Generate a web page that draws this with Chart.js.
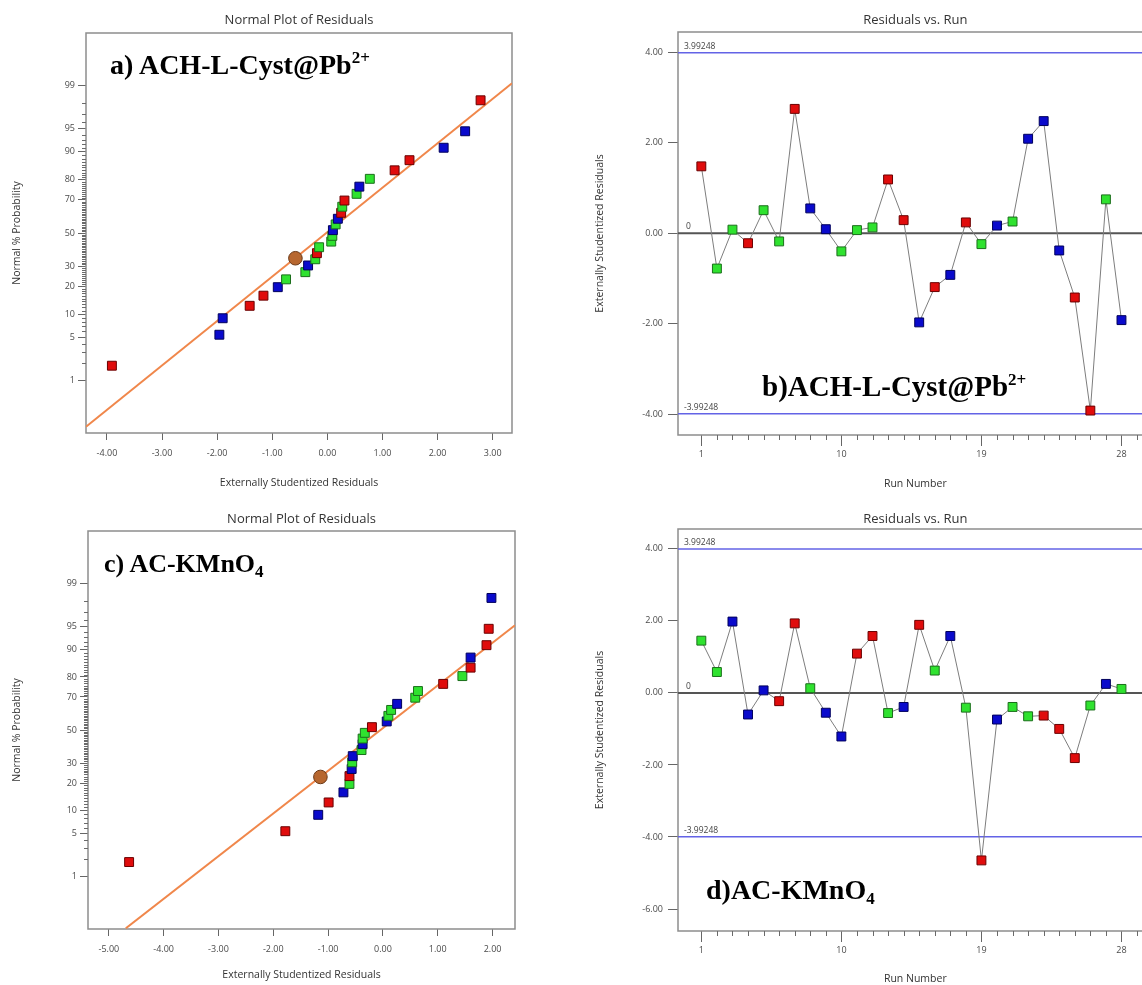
<!DOCTYPE html>
<html>
<head>
<meta charset="utf-8">
<script src="https://cdn.jsdelivr.net/npm/chart.js@4.4.1/dist/chart.umd.min.js"></script>
<style>
  html, body { margin: 0; padding: 0; background: #fff; overflow: hidden; }
  body { position: relative; width: 1142px; height: 985px; }
  .panel { position: absolute; }
  .tag {
    position: absolute; white-space: nowrap; line-height: 1;
    font-family: "Liberation Serif", "Times New Roman", serif;
    font-weight: bold; font-size: 28px; color: #000;
  }
  .tag sup { font-size: 17px; vertical-align: 11px; line-height: 0; }
  .tag sub { font-size: 17px; vertical-align: -5px; line-height: 0; }
</style>
</head>
<body>

<div class="panel" style="left:0;top:0"><canvas id="chartA" width="570" height="495"></canvas></div>
<div class="panel" style="left:570px;top:0"><canvas id="chartB" width="600" height="495"></canvas></div>
<div class="panel" style="left:0;top:498px"><canvas id="chartC" width="570" height="487"></canvas></div>
<div class="panel" style="left:570px;top:498px"><canvas id="chartD" width="600" height="487"></canvas></div>

<div class="tag" style="left:110px;top:51px">a)&#8201;ACH-L-Cyst@Pb<sup>2+</sup></div>
<div class="tag" style="left:762px;top:372px;font-size:29px">b)ACH-L-Cyst@Pb<sup>2+</sup></div>
<div class="tag" style="left:104px;top:551px;font-size:26px">c)&#8201;AC-KMnO<sub>4</sub></div>
<div class="tag" style="left:706px;top:876px">d)AC-KMnO<sub>4</sub></div>

<script>
/***********************
 * DATA
 ***********************/
// run order charts (b, d): run number, residual, design colour (r/g/b)
const runs = [1, 2, 3, 4, 5, 6, 7, 8, 9, 10, 11, 12, 13, 14, 15, 16, 17, 18, 19, 20, 21, 22, 23, 24, 25, 26, 27, 28];

const residB = [1.48, -0.78, 0.08, -0.22, 0.51, -0.18, 2.75, 0.55, 0.09, -0.40, 0.07, 0.13, 1.19, 0.29,
  -1.97, -1.19, -0.92, 0.24, -0.24, 0.17, 0.26, 2.09, 2.48, -0.38, -1.42, -3.92, 0.75, -1.92];
const colorB = ["r", "g", "g", "r", "g", "g", "r", "b", "b", "g", "g", "g", "r", "r",
  "b", "r", "b", "r", "g", "b", "g", "b", "b", "b", "r", "r", "g", "b"];

const residD = [1.45, 0.58, 1.98, -0.60, 0.07, -0.23, 1.93, 0.13, -0.55, -1.21, 1.09, 1.58, -0.56, -0.39,
  1.89, 0.62, 1.58, -0.41, -4.65, -0.74, -0.39, -0.65, -0.63, -1.00, -1.81, -0.35, 0.25, 0.11];
const colorD = ["g", "g", "b", "b", "b", "r", "r", "g", "b", "b", "r", "r", "g", "b",
  "r", "g", "b", "g", "r", "b", "g", "g", "r", "r", "r", "g", "b", "g"];

// normal probability plots (a, c): residual, normal % probability, colour
const residA = [-3.91, -1.96, -1.90, -1.41, -1.16, -0.90, -0.75, -0.40, -0.35, -0.22, -0.19, -0.15, 0.07, 0.09,
  0.10, 0.15, 0.19, 0.25, 0.27, 0.31, 0.53, 0.58, 0.77, 1.22, 1.49, 2.11, 2.50, 2.78];
const colorA = ["r", "b", "b", "r", "r", "b", "g", "g", "b", "g", "r", "g", "g", "g",
  "b", "g", "b", "r", "g", "r", "g", "b", "g", "r", "r", "b", "b", "r"];
const probA = [1.8, 5.4, 8.9, 12.5, 16.1, 19.6, 23.2, 26.8, 30.4, 33.9, 37.5, 41.1, 44.6, 48.2,
  51.8, 55.4, 58.9, 62.5, 66.1, 69.6, 73.2, 76.8, 80.4, 83.9, 87.5, 91.1, 94.6, 98.2];

const residC = [-4.63, -1.78, -1.18, -0.99, -0.72, -0.61, -0.61, -0.57, -0.56, -0.55, -0.39, -0.37, -0.37, -0.33,
  -0.20, 0.07, 0.10, 0.15, 0.26, 0.59, 0.64, 1.10, 1.45, 1.60, 1.60, 1.89, 1.93, 1.98];
const colorC = ["r", "r", "b", "r", "b", "g", "r", "b", "g", "b", "g", "b", "g", "g",
  "r", "b", "g", "g", "b", "g", "g", "r", "g", "r", "b", "r", "r", "b"];
const probC = [1.8, 5.4, 8.9, 12.5, 16.1, 19.6, 23.2, 26.8, 30.4, 33.9, 37.5, 41.1, 44.6, 48.2,
  51.8, 55.4, 58.9, 62.5, 66.1, 69.6, 73.2, 76.8, 80.4, 83.9, 87.5, 91.1, 94.6, 98.2];

// fitted normal line (two end points: residual, %) and the highlighted point
const fitA = { x: [-4.38, 3.35], p: [0.11, 99.1] };
const fitC = { x: [-4.69, 2.41], p: [0.082, 95.2] };
const markA = { x: -0.58, p: 34.5 };
const markC = { x: -1.14, p: 22.8 };

// limits in the run charts
const LIMIT = 3.99248;

// tick labels
const probTicks = [1, 5, 10, 20, 30, 50, 70, 80, 90, 95, 99];
const ticksXA = [-4, -3, -2, -1, 0, 1, 2, 3];
const ticksXC = [-5, -4, -3, -2, -1, 0, 1, 2];
const ticksYB = [-4, -2, 0, 2, 4];
const ticksYD = [-6, -4, -2, 0, 2, 4];
const runTicks = [1, 10, 19, 28];

/***********************
 * STYLE
 ***********************/
const FILL = { r: "#e00c0c", g: "#2fe22f", b: "#0a0acc" };
const EDGE = { r: "#6a0000", g: "#1b6e1b", b: "#00005c" };
const ORANGE = "#f0874b";
const BROWN = "#b7672f";
const LIMIT_BLUE = "#6363e6";
const TICK_C = "#4a4a4a";
const TEXT_C = "#333";

Chart.defaults.font.family = '"Open Sans", "Noto Sans", sans-serif';

/***********************
 * Helpers
 ***********************/
// inverse normal CDF, used as the transform of the probability axis
function probit(p) {
  const a = [-39.69683028665376, 220.9460984245205, -275.9285104469687, 138.3577518672690, -30.66479806614716, 2.506628277459239];
  const b = [-54.47609879822406, 161.5858368580409, -155.6989798598866, 66.80131188771972, -13.28068155288572];
  const c = [-0.007784894002430293, -0.3223964580411365, -2.400758277161838, -2.549732539343734, 4.374664141464968, 2.938163982698783];
  const d = [0.007784695709041462, 0.3224671290700398, 2.445134137142996, 3.754408661907416];
  const lo = 0.02425;
  let q, r;
  if (p < lo) {
    q = Math.sqrt(-2 * Math.log(p));
    return (((((c[0] * q + c[1]) * q + c[2]) * q + c[3]) * q + c[4]) * q + c[5]) / ((((d[0] * q + d[1]) * q + d[2]) * q + d[3]) * q + 1);
  }
  if (p <= 1 - lo) {
    q = p - 0.5;
    r = q * q;
    return (((((a[0] * r + a[1]) * r + a[2]) * r + a[3]) * r + a[4]) * r + a[5]) * q / (((((b[0] * r + b[1]) * r + b[2]) * r + b[3]) * r + b[4]) * r + 1);
  }
  q = Math.sqrt(-2 * Math.log(1 - p));
  return -(((((c[0] * q + c[1]) * q + c[2]) * q + c[3]) * q + c[4]) * q + c[5]) / ((((d[0] * q + d[1]) * q + d[2]) * q + d[3]) * q + 1);
}
const z = (pct) => probit(pct / 100);

function tickList(values) {
  return (scale) => { scale.ticks = values.map((v) => ({ value: v })); };
}

// every whole percent that is not a labelled tick gets a short tick
const minorPct = [];
for (let p = 2; p <= 98; p++) if (!probTicks.includes(p)) minorPct.push(p);
const minorRuns = runs.filter((r) => !runTicks.includes(r)).concat([29]);

/***********************
 * Plugins
 ***********************/
const frame = {
  id: "frame",
  beforeDatasetsDraw(chart) {
    const { ctx, chartArea: a } = chart;
    ctx.save();
    ctx.strokeStyle = "#8d8d8d";
    ctx.lineWidth = 1.5;
    ctx.strokeRect(a.left, a.top, a.right - a.left, a.bottom - a.top);
    ctx.restore();
  },
};

const minorTicks = {
  id: "minorTicks",
  afterDraw(chart, args, opts) {
    if (!opts.list) return;
    const ctx = chart.ctx;
    ctx.save();
    ctx.strokeStyle = "#6a6a6a";
    ctx.lineWidth = 1;
    opts.list.forEach((item) => {
      const sc = chart.scales[item.axis];
      item.values.forEach((v) => {
        const px = Math.round(sc.getPixelForValue(v)) + 0.5;
        ctx.beginPath();
        if (sc.isHorizontal()) {
          ctx.moveTo(px, sc.top);
          ctx.lineTo(px, sc.top + item.len);
        } else {
          ctx.moveTo(sc.right, px);
          ctx.lineTo(sc.right - item.len, px);
        }
        ctx.stroke();
      });
    });
    ctx.restore();
  },
};

const lineLabels = {
  id: "lineLabels",
  afterDatasetsDraw(chart, args, opts) {
    if (!opts.items) return;
    const { ctx, chartArea: a, scales } = chart;
    ctx.save();
    ctx.fillStyle = "#444";
    ctx.font = '8.5px "Open Sans", sans-serif';
    ctx.textBaseline = "bottom";
    opts.items.forEach((it) => {
      ctx.fillText(it.text, a.left + it.dx, scales.y.getPixelForValue(it.value) - 2);
    });
    ctx.restore();
  },
};

Chart.register(frame, minorTicks, lineLabels);

function squares(points, colors) {
  return {
    data: points,
    pointStyle: "rect",
    pointRadius: 6.3,
    pointHoverRadius: 6.3,
    pointBorderWidth: 1,
    pointBackgroundColor: colors.map((c) => FILL[c]),
    pointBorderColor: colors.map((c) => EDGE[c]),
    order: 1,
  };
}

function axisTitle(text, pad) {
  return { display: true, text, color: TEXT_C, font: { size: 10.5 }, padding: pad };
}

/***********************
 * Normal plots
 ***********************/
function makeNormal(id, o) {
  const pts = o.resid.map((x, i) => ({ x, y: z(o.prob[i]) }));
  new Chart(document.getElementById(id), {
    type: "scatter",
    data: {
      datasets: [
        squares(pts, o.colors),
        {
          data: [{ x: o.mark.x, y: z(o.mark.p) }],
          pointStyle: "circle", pointRadius: 6.8, pointBorderWidth: 1,
          pointBackgroundColor: BROWN, pointBorderColor: "#6b3917", order: 2,
        },
        {
          data: o.fit.x.map((x, i) => ({ x, y: z(o.fit.p[i]) })),
          showLine: true, borderColor: ORANGE, borderWidth: 2, pointRadius: 0, order: 3,
        },
      ],
    },
    options: {
      responsive: false,
      animation: false,
      events: [],
      layout: { padding: { left: 0, top: 0, right: o.padRight, bottom: 0 } },
      plugins: {
        legend: { display: false },
        tooltip: { enabled: false },
        title: {
          display: true, text: "Normal Plot of Residuals", fullSize: false,
          color: TEXT_C, font: { size: 13, weight: "normal" }, padding: o.titlePad,
        },
        minorTicks: { list: [{ axis: "y", values: minorPct.map(z), len: 4 }] },
      },
      scales: {
        x: {
          type: "linear", min: o.xMin, max: o.xMax,
          afterBuildTicks: tickList(o.xTicks),
          afterFit: (s) => { s.height = o.xAxisH; },
          ticks: { callback: (v) => v.toFixed(2), color: TICK_C, font: { size: 9 }, padding: 8, autoSkip: false, maxRotation: 0 },
          grid: { drawOnChartArea: false, tickLength: 7, tickColor: "#666" },
          border: { display: false },
          title: axisTitle("Externally Studentized Residuals", { top: 0, bottom: o.xTitlePad }),
        },
        y: {
          type: "linear", min: -3.16, max: 3.16,
          afterBuildTicks: tickList(probTicks.map(z)),
          afterFit: (s) => { s.width = o.yAxisW; },
          ticks: { callback: (v, i) => String(probTicks[i]), color: TICK_C, font: { size: 9 }, padding: 3, autoSkip: false },
          grid: { drawOnChartArea: false, tickLength: 8, tickColor: "#666" },
          border: { display: false },
          title: axisTitle("Normal % Probability", { top: 10.7, bottom: 0 }),
        },
      },
    },
  });
}

/***********************
 * Run charts
 ***********************/
function makeRun(id, o) {
  const X0 = -0.5, X1 = 30;
  const flat = (y) => [{ x: X0, y }, { x: X1, y }];
  new Chart(document.getElementById(id), {
    type: "scatter",
    data: {
      datasets: [
        Object.assign(squares(runs.map((x, i) => ({ x, y: o.resid[i] })), o.colors), {
          showLine: true, borderColor: "#7d7d7d", borderWidth: 1,
        }),
        { data: flat(0), showLine: true, borderColor: "#555", borderWidth: 2, pointRadius: 0, order: 3 },
        { data: flat(LIMIT), showLine: true, borderColor: LIMIT_BLUE, borderWidth: 1.5, pointRadius: 0, order: 3 },
        { data: flat(-LIMIT), showLine: true, borderColor: LIMIT_BLUE, borderWidth: 1.5, pointRadius: 0, order: 3 },
      ],
    },
    options: {
      responsive: false,
      animation: false,
      events: [],
      layout: { padding: { left: 0, top: 0, right: 17.4, bottom: 0 } },
      plugins: {
        legend: { display: false },
        tooltip: { enabled: false },
        title: {
          display: true, text: "Residuals vs. Run", fullSize: false,
          color: TEXT_C, font: { size: 13, weight: "normal" }, padding: o.titlePad,
        },
        minorTicks: { list: [{ axis: "x", values: minorRuns, len: 5 }] },
        lineLabels: {
          items: [
            { text: LIMIT.toString(), value: LIMIT, dx: 6 },
            { text: "0", value: 0, dx: 8 },
            { text: (-LIMIT).toString(), value: -LIMIT, dx: 6 },
          ],
        },
      },
      scales: {
        x: {
          type: "linear", min: X0, max: X1,
          afterBuildTicks: tickList(runTicks),
          afterFit: (s) => { s.height = o.xAxisH; },
          ticks: { callback: (v) => String(v), color: TICK_C, font: { size: 9 }, padding: 3, autoSkip: false, maxRotation: 0 },
          grid: { drawOnChartArea: false, tickLength: 11, tickColor: "#666" },
          border: { display: false },
          title: axisTitle("Run Number", { top: 0, bottom: o.xTitlePad }),
        },
        y: {
          type: "linear", min: o.yMin, max: o.yMax,
          afterBuildTicks: tickList(o.yTicks),
          afterFit: (s) => { s.width = 108; },
          ticks: { callback: (v) => v.toFixed(2), color: TICK_C, font: { size: 9 }, padding: 5, autoSkip: false },
          grid: { drawOnChartArea: false, tickLength: 10, tickColor: "#666" },
          border: { display: false },
          title: axisTitle("Externally Studentized Residuals", { top: 23.7, bottom: 0 }),
        },
      },
    },
  });
}

/***********************
 * INIT
 ***********************/
makeNormal("chartA", {
  resid: residA, prob: probA, colors: colorA, fit: fitA, mark: markA,
  xMin: -4.38, xMax: 3.35, xTicks: ticksXA,
  padRight: 58, yAxisW: 86, xAxisH: 62, xTitlePad: 5.7,
  titlePad: { top: 12.2, bottom: 5.2 },
});

makeNormal("chartC", {
  resid: residC, prob: probC, colors: colorC, fit: fitC, mark: markC,
  xMin: -5.38, xMax: 2.41, xTicks: ticksXC,
  padRight: 55, yAxisW: 88, xAxisH: 56, xTitlePad: 3.5,
  titlePad: { top: 13.2, bottom: 4.2 },
});

makeRun("chartB", {
  resid: residB, colors: colorB,
  yMin: -4.46, yMax: 4.45, yTicks: ticksYB,
  xAxisH: 60, xTitlePad: 4.7,
  titlePad: { top: 12.2, bottom: 4.2 },
});

makeRun("chartD", {
  resid: residD, colors: colorD,
  yMin: -6.61, yMax: 4.55, yTicks: ticksYD,
  xAxisH: 54, xTitlePad: 0,
  titlePad: { top: 13.2, bottom: 2.2 },
});
</script>
</body>
</html>
